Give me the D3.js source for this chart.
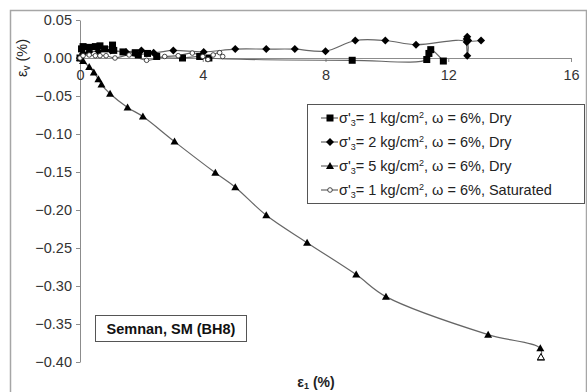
<!DOCTYPE html>
<html>
<head>
<meta charset="utf-8">
<script src="https://cdn.jsdelivr.net/npm/d3@7"></script>
<style>
  body { margin: 0; background: #fff; }
  text { font-family: "Liberation Sans", Arial, sans-serif; }
</style>
</head>
<body>
<div id="chart"></div>
<script>
// data: [eps1 (%), epsV (%)]
const s1Dry = [[0,0],[0.05,0.012],[0.1,0.015],[0.3,0.014],[0.5,0.015],[0.65,0.016],[0.8,0.012],[1.06,0.017],[1.1,0.010],
  [1.4,0.008],[1.8,0.007],[1.9,0.004],[2.2,0.006],[2.5,0.002],[3.34,0.0],[3.9,0.002],[4.2,0.0],[8.87,-0.003],
  [11.3,-0.002],[11.37,0.006],[11.43,0.011],[11.84,-0.004]];
const s2Dry = [[0,0],[0.1,0.006],[0.3,0.008],[0.6,0.009],[1.0,0.010],[1.5,0.008],[2.0,0.010],[2.4,0.007],[3.04,0.010],
  [4.03,0.008],[5.06,0.0117],[6.07,0.0117],[7.0,0.0117],[8.0,0.009],[8.97,0.023],[9.95,0.023],[10.95,0.0175],
  [12.6,0.021],[12.62,0.003],[12.6,0.025],[12.62,0.028],[12.65,0.023],[13.07,0.023]];
const s5Dry = [[0,0],[0.1,-0.004],[0.3,-0.012],[0.45,-0.019],[0.6,-0.028],[0.7,-0.035],[0.98,-0.047],[1.55,-0.065],
  [2.05,-0.077],[3.08,-0.110],[4.41,-0.151],[5.06,-0.170],[6.07,-0.207],[7.4,-0.243],[9.0,-0.285],[9.97,-0.314],
  [13.3,-0.364],[15.0,-0.382],[15.02,-0.394]];
const s1Sat = [[0,0],[0.1,0.003],[0.3,0.004],[0.5,0.003],[0.65,0.003],[0.85,0.003],[1.14,0.0],[1.6,0.004],[2.17,-0.003],
  [2.76,0.002],[3.2,0.003],[3.66,0.0065],[4.0,0.002],[4.17,-0.002],[4.34,0.004],[4.55,0.007],[4.65,0.002]];
const xTicks = [0, 4, 8, 12, 16];
const yTicks = [0.05, 0.00, -0.05, -0.10, -0.15, -0.20, -0.25, -0.30, -0.35, -0.40];
const legendLabels = ["= 1 kg/cm", "= 2 kg/cm", "= 5 kg/cm", "= 1 kg/cm"];
const legendTails = [", \u03c9 = 6%, Dry", ", \u03c9 = 6%, Dry", ", \u03c9 = 6%, Dry", ", \u03c9 = 6%, Saturated"];

const W = 587, H = 392;
const svg = d3.select("#chart").append("svg").attr("width", W).attr("height", H);

// outer frame
svg.append("rect").attr("x", 10.5).attr("y", 10.5).attr("width", 576).attr("height", 400)
  .attr("fill", "#fff").attr("stroke", "#a6a6a6").attr("stroke-width", 1.5);

const x = d3.scaleLinear().domain([0, 16]).range([80, 571]);
const y = d3.scaleLinear().domain([-0.40, 0.05]).range([362, 20]);

// y axis
const yAxis = svg.append("g").attr("transform", `translate(${x(0)},0)`)
  .call(d3.axisLeft(y).tickValues(yTicks).tickFormat(d3.format(".2f")).tickSize(4).tickSizeOuter(0));
// x axis along y = 0
const xAxis = svg.append("g").attr("transform", `translate(0,${y(0)})`)
  .call(d3.axisBottom(x).tickValues(xTicks).tickSize(4).tickSizeOuter(0));
[yAxis, xAxis].forEach(g => {
  g.select(".domain").attr("stroke", "#8c8c8c");
  g.selectAll(".tick line").attr("stroke", "#8c8c8c");
  g.selectAll("text").attr("fill", "#333").style("font-size", "14.5px");
});
yAxis.selectAll("text").attr("x", -8);
xAxis.selectAll("text").attr("y", 12);

const line = d3.line().x(d => x(d[0])).y(d => y(d[1])).curve(d3.curveCatmullRom.alpha(0.5));

const series = [
  { data: s1Dry, shape: "square" },
  { data: s2Dry, shape: "diamond" },
  { data: s5Dry, shape: "triangle" },
  { data: s1Sat, shape: "circle" }
];

function marker(g, shape, cx, cy) {
  if (shape === "square") {
    g.append("rect").attr("x", cx - 3.5).attr("y", cy - 3.5).attr("width", 7).attr("height", 7).attr("fill", "#000");
  } else if (shape === "diamond") {
    g.append("path").attr("d", `M${cx},${cy - 4}L${cx + 4},${cy}L${cx},${cy + 4}L${cx - 4},${cy}Z`).attr("fill", "#000");
  } else if (shape === "triangle") {
    g.append("path").attr("d", `M${cx},${cy - 4}L${cx + 4},${cy + 3}L${cx - 4},${cy + 3}Z`).attr("fill", "#000");
  } else {
    g.append("circle").attr("cx", cx).attr("cy", cy).attr("r", 2.3)
      .attr("fill", "#fff").attr("stroke", "#333").attr("stroke-width", 0.9);
  }
}

const plot = svg.append("g");
series.forEach(s => {
  plot.append("path").attr("d", line(s.data)).attr("fill", "none").attr("stroke", "#666").attr("stroke-width", 1.2);
});
series.forEach(s => {
  const g = plot.append("g");
  s.data.forEach(d => marker(g, s.shape, x(d[0]), y(d[1])));
});
// open marker at the end of the 5 kg/cm2 curve
plot.append("path").attr("d", `M${x(15.02)},${y(-0.389)}L${x(15.02) + 3.5},${y(-0.397)}L${x(15.02) - 3.5},${y(-0.397)}Z`)
  .attr("fill", "#fff").attr("stroke", "#000");

// legend
const lg = svg.append("g");
lg.append("rect").attr("x", 307.5).attr("y", 104.5).attr("width", 277).attr("height", 99)
  .attr("fill", "#fff").attr("stroke", "#555").attr("stroke-width", 1);
series.forEach((s, i) => {
  const cy = 118 + i * 24;
  lg.append("line").attr("x1", 321).attr("x2", 338).attr("y1", cy).attr("y2", cy).attr("stroke", "#666").attr("stroke-width", 1.2);
  marker(lg, s.shape, 330, cy);
  const t = lg.append("text").attr("x", 339).attr("y", cy + 5).style("font-size", "14.5px").attr("fill", "#222");
  t.append("tspan").text("\u03c3'");
  t.append("tspan").attr("dy", 3).style("font-size", "9px").text("3");
  t.append("tspan").attr("dy", -3).text(legendLabels[i]);
  t.append("tspan").attr("dy", -5).style("font-size", "9px").text("2");
  t.append("tspan").attr("dy", 5).text(legendTails[i]);
});

// site label box
svg.append("rect").attr("x", 95.5).attr("y", 315.5).attr("width", 151).attr("height", 26)
  .attr("fill", "#fff").attr("stroke", "#555");
svg.append("text").attr("x", 171).attr("y", 334).attr("text-anchor", "middle")
  .style("font-size", "14.5px").style("font-weight", "bold").attr("fill", "#111").text("Semnan, SM (BH8)");

// axis titles
const yt = svg.append("text").attr("transform", "translate(27,58) rotate(-90)").attr("text-anchor", "middle")
  .style("font-size", "14.5px").attr("fill", "#222");
yt.append("tspan").text("\u03b5");
yt.append("tspan").attr("dy", 3).style("font-size", "10px").text("v");
yt.append("tspan").attr("dy", -3).text(" (%)");

const xt = svg.append("text").attr("x", 316).attr("y", 387).attr("text-anchor", "middle")
  .style("font-size", "14px").style("font-weight", "bold").attr("fill", "#222");
xt.append("tspan").text("\u03b5");
xt.append("tspan").attr("dy", 2).style("font-size", "9px").text("1");
xt.append("tspan").attr("dy", -2).text(" (%)");
</script>
</body>
</html>
